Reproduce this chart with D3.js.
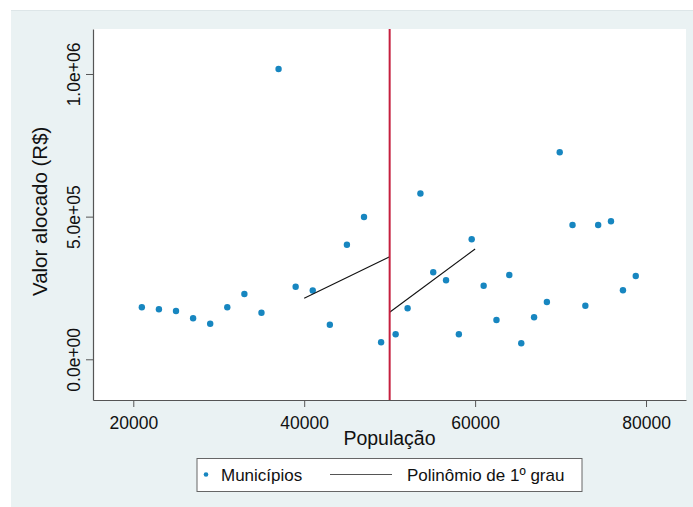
<!DOCTYPE html>
<html>
<head>
<meta charset="utf-8">
<script src="https://cdn.jsdelivr.net/npm/d3@7"></script>
<style>
  html, body { margin: 0; padding: 0; background: #fff; }
  svg { display: block; font-family: "Liberation Sans", Arial, sans-serif; }
</style>
</head>
<body>
<svg id="chart" width="693" height="507"></svg>
<script>
// populacao (x) e valor alocado (y)
const populacao = [21000, 23000, 25000, 27000, 29000, 31000, 33000, 35000, 37000, 39000,
  41000, 43000, 45000, 47000, 49000,
  50700, 52100, 53600, 55100, 56600, 58100, 59600, 61000, 62500, 64000,
  65400, 66900, 68400, 69900, 71400, 72900, 74400, 75900, 77300, 78800];
const valor = [182300, 175300, 169300, 143700, 124800, 182300, 228900, 163300, 1017500, 254500,
  241100, 121300, 401700, 498700, 59600,
  87600, 178800, 581100, 304900, 276900, 87600, 420600, 258000, 137700, 295500,
  56100, 147200, 200800, 725500, 470700, 187900, 470700, 483700, 241800, 292000];

// ajustes lineares de cada lado do corte
const fitEsqX = [40000, 50000], fitEsqY = [213800, 359600];
const fitDirX = [50000, 60000], fitDirY = [164700, 386600];
const corte = 50000;

const xTicks = [20000, 40000, 60000, 80000];
const yTicks = [0, 500000, 1000000];

const svg = d3.select("#chart");
const margin = {left: 93, top: 29, right: 686, bottom: 400};
const blue = "#1786c0", red = "#c51f3e";

const x = d3.scaleLinear().domain([15286, 84678]).range([margin.left, margin.right]);
const y = d3.scaleLinear().domain([-142700, 1157700]).range([margin.bottom, margin.top]);

function sci(d) {
  if (d === 0) return "0.0e+00";
  const e = Math.floor(Math.log10(Math.abs(d)));
  const m = d / Math.pow(10, e);
  return m.toFixed(1) + "e+" + String(e).padStart(2, "0");
}

// fundo
svg.append("rect").attr("x", 11).attr("y", 10).attr("width", 682).attr("height", 497)
  .attr("fill", "#eaf2f3");
svg.append("line").attr("x1", 11).attr("x2", 693).attr("y1", 10.5).attr("y2", 10.5)
  .attr("stroke", "#dde6e8");
svg.append("rect").attr("x", margin.left).attr("y", margin.top)
  .attr("width", margin.right - margin.left).attr("height", margin.bottom - margin.top)
  .attr("fill", "#fff");

// eixos
const xAxis = svg.append("g").attr("transform", `translate(0,${margin.bottom})`)
  .call(d3.axisBottom(x).tickValues(xTicks).tickSize(7).tickSizeOuter(0).tickPadding(5).tickFormat(d3.format("d")));
const yAxis = svg.append("g").attr("transform", `translate(${margin.left},0)`)
  .call(d3.axisLeft(y).tickValues(yTicks).tickSize(7).tickSizeOuter(0).tickFormat(sci));

[xAxis, yAxis].forEach(g => {
  g.select(".domain").attr("stroke", "#555").attr("stroke-width", 1.2);
  g.selectAll(".tick line").attr("stroke", "#555");
  g.selectAll(".tick text").attr("fill", "#111").style("font-size", "17.5px")
    .style("font-family", "'Liberation Sans', Arial, sans-serif");
});
xAxis.selectAll(".tick text").attr("dy", "0.95em");
yAxis.selectAll(".tick text")
  .attr("transform", "rotate(-90)")
  .attr("x", 0).attr("y", -13).attr("dy", 0)
  .attr("text-anchor", "middle");

// titulos
svg.append("text").attr("x", (margin.left + margin.right) / 2).attr("y", 445)
  .attr("text-anchor", "middle").attr("fill", "#111").style("font-size", "19.5px")
  .text("População");
svg.append("text")
  .attr("transform", "translate(47,296) rotate(-90)")
  .attr("text-anchor", "start").attr("fill", "#111").style("font-size", "20.5px")
  .text("Valor alocado (R$)");

// pontos
svg.append("g").selectAll("circle").data(populacao).join("circle")
  .attr("cx", d => x(d))
  .attr("cy", (d, i) => y(valor[i]))
  .attr("r", 3.2)
  .attr("fill", blue);

// linhas ajustadas
const line = d3.line().x(d => x(d[0])).y(d => y(d[1]));
[[fitEsqX, fitEsqY], [fitDirX, fitDirY]].forEach(([fx, fy]) => {
  svg.append("path").datum(fx.map((v, i) => [v, fy[i]]))
    .attr("d", line).attr("fill", "none").attr("stroke", "#111").attr("stroke-width", 1.1);
});

// linha de corte
svg.append("line").attr("x1", x(corte)).attr("x2", x(corte))
  .attr("y1", margin.top).attr("y2", margin.bottom)
  .attr("stroke", red).attr("stroke-width", 2);

// legenda
const leg = svg.append("g");
leg.append("rect").attr("x", 197).attr("y", 458.5).attr("width", 385).attr("height", 33)
  .attr("fill", "#fff").attr("stroke", "#666").attr("stroke-width", 1);
leg.append("circle").attr("cx", 206).attr("cy", 474.5).attr("r", 2.3).attr("fill", blue);
leg.append("text").attr("x", 221).attr("y", 481).attr("fill", "#111").style("font-size", "17px")
  .text("Municípios");
leg.append("line").attr("x1", 330).attr("x2", 392).attr("y1", 474.5).attr("y2", 474.5)
  .attr("stroke", "#555").attr("stroke-width", 1);
leg.append("text").attr("x", 407).attr("y", 481).attr("fill", "#111").style("font-size", "17px")
  .text("Polinômio de 1º grau");
</script>
</body>
</html>
